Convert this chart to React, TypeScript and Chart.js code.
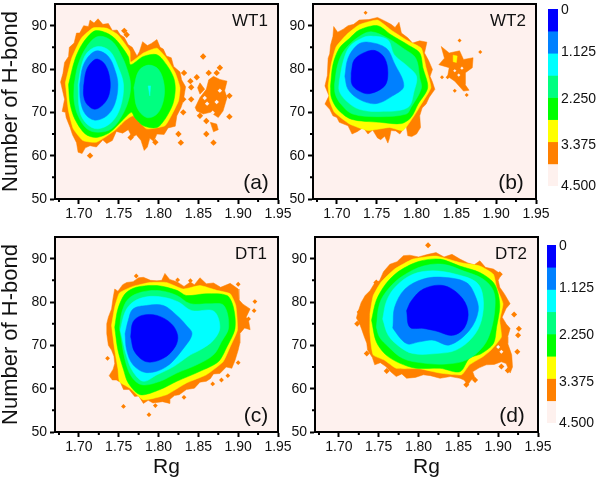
import React, { useEffect, useRef } from "react";
import { Chart, registerables } from "chart.js";
Chart.register(...registerables);

type Pt = [number, number];

const X_MAJOR = [1.7, 1.75, 1.8, 1.85, 1.9, 1.95];
const X_MINOR = [1.675, 1.725, 1.775, 1.825, 1.875, 1.925];
const Y_MAJOR = [50, 60, 70, 80, 90];
const Y_MINOR = [55, 65, 75, 85];

const ORANGE = "#ff8000", YELLOW = "#ffff00", GREEN = "#00ff00", SPRING = "#00ff80", CYAN = "#00ffff", AZURE = "#0080ff", BLUE = "#0000ff", PALE = "#fef1ee";
const LEVEL_COLORS = [ORANGE, YELLOW, GREEN, SPRING, CYAN, AZURE, BLUE];
const LEVEL_TENSION = [0, 0.15, 0.3, 0.35, 0.35, 0.35, 0.35];
const BAR_COLORS = [BLUE, AZURE, CYAN, SPRING, GREEN, YELLOW, ORANGE, PALE];
const BAR_EDGES = [0, 0.5625, 1.125, 1.6875, 2.25, 2.8125, 3.375, 3.9375, 4.5];
const BAR_LABELS = ["0", "1.125", "2.250", "3.375", "4.500"];
const BAR_LABEL_AT = [0.03, 1.09, 2.28, 3.46, 4.5];

// ---- WT1 ----
const A_ORANGE: Pt[] = [[1.677,77],[1.68,79],[1.682,81.5],[1.687,82.9],[1.688,85],[1.694,86],[1.697,88.3],[1.701,88.3],[1.706,90],[1.712,89.8],[1.714,91.3],[1.719,90.6],[1.724,91.6],[1.73,90.3],[1.737,90.5],[1.742,88.9],[1.748,89],[1.752,87.9],[1.757,87.3],[1.762,85.6],[1.767,85],[1.773,83],[1.776,84],[1.78,86.3],[1.786,85.4],[1.791,85.9],[1.798,86.8],[1.802,85],[1.806,84.6],[1.81,83],[1.816,82.6],[1.819,80.6],[1.827,79.3],[1.829,77.5],[1.834,75.9],[1.831,72.6],[1.828,71],[1.823,69.2],[1.821,66.8],[1.812,66.4],[1.807,64.9],[1.798,65],[1.794,63.3],[1.789,64],[1.786,62],[1.782,61.2],[1.778,63.5],[1.772,64.8],[1.767,64.2],[1.762,66],[1.755,65.2],[1.747,65.6],[1.742,63.5],[1.735,62.8],[1.73,63.6],[1.722,62],[1.714,62.3],[1.708,61.8],[1.704,60.5],[1.699,60.8],[1.697,63],[1.692,64.8],[1.689,66.5],[1.684,68.8],[1.683,70],[1.679,70.2],[1.682,73]];
const A_YELLOW: Pt[] = [[1.683,76.8],[1.691,82.5],[1.703,87.1],[1.718,89.5],[1.735,89.4],[1.749,87.9],[1.764,84.1],[1.765,81.6],[1.781,83.7],[1.798,84.8],[1.81,82.5],[1.821,79.1],[1.827,75.7],[1.825,72.6],[1.816,69.2],[1.808,66.9],[1.785,66.2],[1.768,69.2],[1.758,68.1],[1.745,65.8],[1.722,63.1],[1.705,63.5],[1.693,66.2],[1.687,70.3]];
const A_GREEN: Pt[] = [[1.687,76.4],[1.695,82.2],[1.705,86],[1.72,88.8],[1.735,88.3],[1.747,86.7],[1.762,82.9],[1.765,81],[1.781,82.9],[1.798,83.3],[1.81,81],[1.819,78],[1.821,75.3],[1.818,71.9],[1.808,68.4],[1.798,66.5],[1.781,66.9],[1.77,68.8],[1.766,70],[1.756,68.4],[1.739,65.4],[1.722,64.2],[1.708,65],[1.695,68.4],[1.689,71.9]];
const A_SPRING: Pt[] = [[1.694,76.4],[1.699,81],[1.71,85.2],[1.724,87.5],[1.741,86.5],[1.754,82.9],[1.762,79.1],[1.765,76.1],[1.762,72.6],[1.754,69.2],[1.741,66.2],[1.724,65.4],[1.71,66.2],[1.699,69.2],[1.694,72.6]];
const A_SPRING2: Pt[] = [[1.769,75.7],[1.775,79.5],[1.787,80.9],[1.8,79.9],[1.807,76.4],[1.806,72.6],[1.798,69.6],[1.785,68.8],[1.773,71.1]];
const A_CYAN: Pt[] = [[1.699,76.4],[1.703,80.6],[1.71,83.7],[1.724,85.2],[1.739,84.1],[1.749,80.6],[1.756,76.4],[1.752,71.1],[1.741,67.7],[1.724,66.2],[1.71,67.3],[1.701,70.3]];
const A_CYAN2: Pt[] = [[1.787,76.1],[1.790,76.1],[1.789,73.8]];
const A_AZURE: Pt[] = [[1.701,76.4],[1.705,80.6],[1.714,83.3],[1.724,84.2],[1.737,82.9],[1.745,79.9],[1.749,76.4],[1.745,71.9],[1.735,69.2],[1.72,68.2],[1.708,69.6],[1.702,72.6]];
const A_BLUE: Pt[] = [[1.706,76.1],[1.709,79.5],[1.715,81.4],[1.723,82.3],[1.733,81],[1.739,77.6],[1.738,74.2],[1.731,71.9],[1.72,70.7],[1.71,71.9],[1.706,73.8]];
const A_CLUSTER: Pt[] = [[1.846,71.1],[1.852,73.4],[1.86,75.3],[1.863,77.5],[1.869,78.3],[1.877,77.6],[1.886,77.2],[1.883,75],[1.886,73.4],[1.881,70.3],[1.875,68.8],[1.865,70],[1.856,69.6],[1.848,70.3]];
const A_CLUSTER2: Pt[] = [[1.852,76.8],[1.858,75.3],[1.852,74.2],[1.849,75.7]];
const A_CLUSTER3: Pt[] = [[1.865,67.7],[1.873,67.3],[1.875,66],[1.869,65.5]];
const A_SPOTS: Pt[] = [[1.714,60],[1.757,88.8],[1.76,87.9],[1.856,82.9],[1.832,79.1],[1.84,77.2],[1.848,78.1],[1.841,75.8],[1.831,73],[1.841,73],[1.831,70],[1.825,65],[1.828,63],[1.86,65],[1.869,63],[1.889,73.8],[1.889,69],[1.852,69.2],[1.863,79.1],[1.873,79.1],[1.877,80.3],[1.765,64.2],[1.796,63.1],[1.86,68]];
const A_HOLES: Pt[] = [[1.873,72.4],[1.868,69.9],[1.861,72],[1.877,75],[1.858,73.3]];

// ---- WT2 ----
const B_ORANGE: Pt[] = [[1.685,76.1],[1.688,78.5],[1.689,82.5],[1.691,83.5],[1.692,85.5],[1.695,87.5],[1.696,89.8],[1.701,88.5],[1.708,89.2],[1.714,90],[1.721,90.3],[1.728,91.3],[1.74,91.4],[1.751,91.9],[1.76,91.1],[1.768,90.3],[1.773,89.6],[1.778,90.8],[1.781,88.3],[1.789,87.2],[1.795,86],[1.804,86.5],[1.813,86.2],[1.81,83.7],[1.815,82],[1.82,79.9],[1.817,78.3],[1.82,77],[1.823,75.3],[1.816,73.5],[1.812,71.9],[1.807,71],[1.804,69.2],[1.805,66.5],[1.8,65],[1.794,64.4],[1.789,64.6],[1.787,66.9],[1.783,66],[1.779,65],[1.774,65.7],[1.768,65.8],[1.766,64],[1.764,62.9],[1.76,64.5],[1.755,63.7],[1.751,64.1],[1.745,65.9],[1.739,65],[1.733,66.5],[1.726,65.6],[1.719,65],[1.714,66.9],[1.703,67.7],[1.7,68.8],[1.695,69.2],[1.691,70.7],[1.685,71.9],[1.69,73.8]];
const B_YELLOW: Pt[] = [[1.689,76.1],[1.693,81.2],[1.699,85.1],[1.712,87.9],[1.728,90.2],[1.751,91.3],[1.768,89],[1.789,86.5],[1.806,84.8],[1.812,80.3],[1.818,75.7],[1.806,71.9],[1.797,69.2],[1.783,65.8],[1.766,66.5],[1.739,65.8],[1.716,67.3],[1.697,70],[1.691,72.6]];
const B_GREEN: Pt[] = [[1.692,76.1],[1.695,81],[1.703,84.8],[1.716,87.1],[1.728,89],[1.751,90],[1.768,87.9],[1.789,85.6],[1.804,83.7],[1.808,80.3],[1.814,75.7],[1.802,71.9],[1.793,68.8],[1.781,67.4],[1.754,67.7],[1.718,68.4],[1.701,70.7],[1.693,73.4]];
const B_SPRING: Pt[] = [[1.697,76.4],[1.701,81],[1.71,84.5],[1.728,87.5],[1.743,88.6],[1.764,87.1],[1.783,84.8],[1.799,82.5],[1.804,78],[1.806,75.5],[1.793,71.1],[1.787,69.6],[1.754,69],[1.72,69.6],[1.705,71.9],[1.698,74.2]];
const B_CYAN: Pt[] = [[1.703,77.2],[1.708,81.8],[1.716,85.2],[1.731,87.1],[1.743,87.6],[1.764,86.7],[1.772,83.3],[1.789,80.6],[1.8,78.3],[1.797,74.9],[1.789,71.1],[1.754,70.2],[1.728,70.7],[1.712,72.6],[1.703,74.9]];
const B_AZURE: Pt[] = [[1.71,78.3],[1.714,82.5],[1.726,85.6],[1.739,86.2],[1.762,84.8],[1.772,81.4],[1.784,76.1],[1.77,73.8],[1.749,72],[1.728,73],[1.714,75.3]];
const B_BLUE: Pt[] = [[1.718,79.1],[1.722,82.2],[1.737,84],[1.749,84.2],[1.76,82.5],[1.764,79.1],[1.76,76.1],[1.741,74.3],[1.728,74.9],[1.719,76.4]];
const B_CLUSTER: Pt[] = [[1.831,85.2],[1.841,83.7],[1.854,84.2],[1.859,82.2],[1.871,82.6],[1.87,80.3],[1.861,79.1],[1.861,76.4],[1.866,75.1],[1.859,74.9],[1.848,77.2],[1.839,78.3],[1.841,80.3],[1.828,81],[1.835,82.5]];
const B_PATCH: Pt[] = [[1.846,83.2],[1.851,83],[1.85,81.5],[1.846,81.7]];
const B_SPOTS: Pt[] = [[1.736,93],[1.854,86.6],[1.88,83.9],[1.848,75],[1.863,74],[1.832,78.1],[1.839,78.1]];
const B_HOLES: Pt[] = [[1.857,80.2],[1.853,78.6],[1.848,79.6]];

// ---- DT1 ----
const C_ORANGE: Pt[] = [[1.735,75],[1.737,76.5],[1.741,78.4],[1.743,81],[1.745,83],[1.749,82.5],[1.755,84],[1.76,84.5],[1.768,84.7],[1.775,85.6],[1.781,85.7],[1.79,85],[1.798,84.9],[1.804,85],[1.808,86.6],[1.814,85.2],[1.823,84.7],[1.832,83.6],[1.84,84.6],[1.845,84],[1.852,85.6],[1.86,84.2],[1.869,84.4],[1.878,83.4],[1.89,84.3],[1.9,83],[1.901,80.5],[1.906,79.5],[1.915,78.4],[1.91,76.5],[1.913,75.8],[1.915,73.6],[1.908,74],[1.902,72.7],[1.902,70.5],[1.9,68.9],[1.896,66.5],[1.892,64.7],[1.885,65],[1.877,63.5],[1.869,63.4],[1.865,62.3],[1.86,61.7],[1.852,61.5],[1.845,60.1],[1.835,59.8],[1.826,58.6],[1.82,58.4],[1.814,57.5],[1.814,56.6],[1.805,57],[1.793,56.7],[1.787,57.3],[1.781,56.6],[1.775,58.3],[1.77,58.2],[1.763,59.8],[1.756,59.8],[1.752,61.5],[1.747,62],[1.742,62],[1.738,63],[1.743,64.5],[1.745,65.8],[1.744,67.5],[1.741,68.9],[1.737,70],[1.735,72.7]];
const C_YELLOW: Pt[] = [[1.741,74.6],[1.745,78.8],[1.751,82.1],[1.768,83.6],[1.789,84.5],[1.81,84.5],[1.831,83],[1.852,83.8],[1.873,82.7],[1.89,81.9],[1.897,79.2],[1.899,73.5],[1.89,69.7],[1.881,66.2],[1.86,63.2],[1.835,61.3],[1.81,58.6],[1.781,57.4],[1.764,60.1],[1.751,61.6],[1.749,64.6],[1.745,68.9]];
const C_GREEN: Pt[] = [[1.745,74.2],[1.749,78.4],[1.758,81.9],[1.772,83.4],[1.798,83.8],[1.823,82.7],[1.835,81.5],[1.86,81.9],[1.886,81.5],[1.894,78.8],[1.896,73.9],[1.886,69.7],[1.875,66.2],[1.852,64],[1.823,61.7],[1.802,59.8],[1.777,58.6],[1.762,61.3],[1.756,64.4],[1.749,68.9]];
const C_SPRING: Pt[] = [[1.751,73.9],[1.754,77.7],[1.762,80.7],[1.779,82.3],[1.802,82.6],[1.823,81.5],[1.84,79.6],[1.865,79.6],[1.882,79.2],[1.888,74.2],[1.879,70.8],[1.869,67.8],[1.848,65.5],[1.823,63.6],[1.802,61.7],[1.779,60.9],[1.766,62.8],[1.758,66.6]];
const C_CYAN: Pt[] = [[1.752,73.5],[1.758,77.7],[1.768,80],[1.785,81.2],[1.806,81.1],[1.825,80],[1.842,78],[1.869,77.9],[1.877,74.2],[1.869,71.2],[1.852,68.9],[1.84,67.8],[1.819,65.1],[1.798,63.2],[1.781,61.7],[1.768,63.9],[1.76,67.4]];
const C_AZURE: Pt[] = [[1.758,72.7],[1.762,75.8],[1.768,78.4],[1.785,79.2],[1.806,79.2],[1.823,76.9],[1.835,74.6],[1.842,72.7],[1.833,69.7],[1.81,65.1],[1.785,63.7],[1.768,65.5],[1.76,68.9]];
const C_BLUE: Pt[] = [[1.765,72],[1.768,75.4],[1.779,76.9],[1.798,76.9],[1.816,75],[1.824,72.3],[1.821,69.7],[1.806,67],[1.785,66.2],[1.77,68.5]];
const C_SPOTS: Pt[] = [[1.772,86],[1.824,85.1],[1.84,84.9],[1.736,67],[1.756,55.9],[1.788,54],[1.796,56.1],[1.832,58],[1.9,66],[1.887,63],[1.879,62],[1.868,61.1],[1.921,80.1],[1.92,78],[1.913,76.1],[1.9,84.1]];
const C_HOLES: Pt[] = [];

// ---- DT2 ----
const D_ORANGE: Pt[] = [[1.728,79.9],[1.733,81.5],[1.739,82.6],[1.745,84.4],[1.751,84.9],[1.756,87],[1.764,88.7],[1.773,89.3],[1.781,90.7],[1.789,90.8],[1.8,90.4],[1.812,91],[1.822,91.4],[1.832,90.4],[1.842,91],[1.852,89.9],[1.862,89],[1.87,88.6],[1.877,89.5],[1.884,88],[1.894,87.6],[1.899,87],[1.904,86.4],[1.9,85],[1.902,83.4],[1.908,81.8],[1.915,79.6],[1.91,78.5],[1.905,76.5],[1.91,75],[1.915,73.9],[1.912,72],[1.912,70.4],[1.917,67.8],[1.918,65],[1.915,63.6],[1.91,65.8],[1.904,66.2],[1.895,65.6],[1.885,65.5],[1.876,64.8],[1.868,63.9],[1.871,62.4],[1.866,62],[1.862,60.9],[1.857,62],[1.852,62.4],[1.84,62.8],[1.827,62.4],[1.815,63],[1.806,63.2],[1.796,62.6],[1.785,62.4],[1.779,63.4],[1.772,62.8],[1.765,63.9],[1.759,65.1],[1.752,66],[1.745,65.5],[1.742,67.2],[1.736,68.9],[1.735,70.5],[1.732,71.9],[1.729,73.5],[1.726,75],[1.722,76.3],[1.724,77.7]];
const D_YELLOW: Pt[] = [[1.739,77.3],[1.743,81.4],[1.753,84.6],[1.77,87.6],[1.793,89.9],[1.822,90.6],[1.852,89.1],[1.877,88.3],[1.894,86.4],[1.898,83.4],[1.906,79.6],[1.902,75.8],[1.904,71.9],[1.891,68.9],[1.881,67.4],[1.864,65.5],[1.854,63.2],[1.827,63.6],[1.801,64.6],[1.772,64.7],[1.757,66.6],[1.743,67.8],[1.739,72.7]];
const D_GREEN: Pt[] = [[1.741,75.8],[1.747,80.4],[1.759,84.2],[1.776,87.2],[1.801,89.4],[1.827,89.9],[1.852,88.3],[1.877,86.8],[1.894,84.5],[1.9,81.9],[1.902,78.8],[1.898,74.2],[1.894,70.4],[1.879,68.1],[1.864,67],[1.852,63.9],[1.827,64.7],[1.797,64.7],[1.776,65.9],[1.759,67.8],[1.747,70.8]];
const D_SPRING: Pt[] = [[1.747,74.2],[1.751,79.6],[1.762,83],[1.78,86],[1.806,88.3],[1.831,88.7],[1.856,87.2],[1.881,85.3],[1.894,82.6],[1.896,78.8],[1.891,73.5],[1.881,69.7],[1.86,66.6],[1.835,65.7],[1.806,65.9],[1.78,67],[1.762,69.7],[1.751,71.9]];
const D_CYAN: Pt[] = [[1.755,76.1],[1.76,80.3],[1.772,83.7],[1.793,86.4],[1.818,87.2],[1.847,86.4],[1.873,84.5],[1.881,81.1],[1.879,75.8],[1.868,71.9],[1.847,68.9],[1.822,68.1],[1.793,68.1],[1.776,69.7],[1.762,72.3]];
const D_AZURE: Pt[] = [[1.768,74.6],[1.77,78.8],[1.783,83],[1.806,85.3],[1.831,85.7],[1.86,84.5],[1.871,81.5],[1.875,78],[1.864,73.5],[1.839,70.1],[1.818,71.2],[1.801,70.8],[1.785,70.4],[1.768,73.9]];
const D_BLUE: Pt[] = [[1.785,78],[1.791,80.3],[1.806,83],[1.831,83.8],[1.852,81.5],[1.862,78],[1.858,74.2],[1.843,72.3],[1.822,73.3],[1.806,73.9],[1.789,74.2]];
const D_SPOTS: Pt[] = [[1.812,93.1],[1.726,77.7],[1.723,75],[1.735,68.1],[1.76,64.1],[1.747,84.5],[1.86,60.9],[1.871,62],[1.92,77.1],[1.926,73.8],[1.925,72.3],[1.924,68.5],[1.904,65.1],[1.912,64.2],[1.902,86.4]];
const D_HOLES: Pt[] = [[1.9,69.6],[1.904,68.5],[1.913,75]];

const toXY = (p: Pt[]) => p.map(([x, y]) => ({ x, y }));
const poly = (p: Pt[], color: string, tension = 0) => ({
  data: toXY([...p, p[0]]),
  showLine: true,
  fill: "shape",
  backgroundColor: color,
  borderColor: color,
  borderWidth: 0.5,
  pointRadius: 0,
  tension,
});
const dots = (p: Pt[], color: string, r = 3.2) => ({
  data: toXY(p),
  showLine: false,
  pointStyle: "rectRot",
  pointRadius: r,
  backgroundColor: color,
  borderWidth: 0,
});

const panelPlugin = {
  id: "panel",
  beforeDraw(chart: any) {
    const a = chart.chartArea, c = chart.ctx;
    c.save();
    c.fillStyle = PALE;
    c.fillRect(a.left, a.top, a.width, a.height);
    c.restore();
  },
  afterDraw(chart: any, _args: any, o: any) {
    const a = chart.chartArea, c = chart.ctx, sx = chart.scales.x, sy = chart.scales.y;
    c.save();
    c.strokeStyle = "#000";
    c.lineWidth = 2;
    c.strokeRect(a.left, a.top, a.width, a.height);
    c.beginPath();
    for (const v of X_MINOR) {
      const p = sx.getPixelForValue(v);
      c.moveTo(p, a.bottom);
      c.lineTo(p, a.bottom + 3);
    }
    for (const v of Y_MINOR) {
      const p = sy.getPixelForValue(v);
      c.moveTo(a.left, p);
      c.lineTo(a.left - 3, p);
    }
    c.stroke();
    c.fillStyle = "#111";
    c.textAlign = "center";
    c.textBaseline = "middle";
    c.font = "17px 'Liberation Sans'";
    c.fillText(o.name, a.right - o.nameDx, a.top + 17);
    c.font = "21px 'Liberation Sans'";
    c.fillText(o.tag, a.right - o.tagDx, a.bottom - 16);
    c.restore();
  },
};

type PanelCfg = {
  layers: any[];
  name: string;
  tag: string;
  nameDx: number;
  tagDx: number;
  left: number;
  top: number;
  axisW: number;
  plotW: number;
  plotH: number;
  xTitle: boolean;
  yTitle: boolean;
};

const layersOf = (rings: Pt[][]) => {
  const out: any[] = [];
  for (let i = rings.length - 1; i >= 0; i--) out.push(poly(rings[i], LEVEL_COLORS[i], LEVEL_TENSION[i]));
  return out;
};

const PANELS: PanelCfg[] = [
  {
    layers: [
      dots(A_HOLES, PALE, 2.2),
      poly(A_CLUSTER3, ORANGE), poly(A_CLUSTER2, ORANGE), poly(A_CLUSTER, ORANGE), dots(A_SPOTS, ORANGE),
      poly(A_CYAN2, CYAN), poly(A_SPRING2, SPRING, 0.35),
      ...layersOf([A_ORANGE, A_YELLOW, A_GREEN, A_SPRING, A_CYAN, A_AZURE, A_BLUE]),
    ],
    name: "WT1", tag: "(a)", nameDx: 28, tagDx: 22, left: 0, top: 0, axisW: 55, plotW: 223, plotH: 196, xTitle: false, yTitle: true,
  },
  {
    layers: [
      dots(B_HOLES, PALE, 1.6), poly(B_PATCH, YELLOW), poly(B_CLUSTER, ORANGE), dots(B_SPOTS, ORANGE, 2),
      ...layersOf([B_ORANGE, B_YELLOW, B_GREEN, B_SPRING, B_CYAN, B_AZURE, B_BLUE]),
    ],
    name: "WT2", tag: "(b)", nameDx: 28, tagDx: 25, left: 283, top: 0, axisW: 30, plotW: 223.5, plotH: 196, xTitle: false, yTitle: false,
  },
  {
    layers: [
      dots(C_HOLES, PALE), dots(C_SPOTS, ORANGE, 2.4),
      ...layersOf([C_ORANGE, C_YELLOW, C_GREEN, C_SPRING, C_CYAN, C_AZURE, C_BLUE]),
    ],
    name: "DT1", tag: "(c)", nameDx: 27, tagDx: 22, left: 0, top: 233, axisW: 55, plotW: 223, plotH: 196.7, xTitle: true, yTitle: true,
  },
  {
    layers: [
      dots(D_HOLES, PALE, 2), dots(D_SPOTS, ORANGE, 3),
      ...layersOf([D_ORANGE, D_YELLOW, D_GREEN, D_SPRING, D_CYAN, D_AZURE, D_BLUE]),
    ],
    name: "DT2", tag: "(d)", nameDx: 27, tagDx: 26, left: 285, top: 233, axisW: 30, plotW: 223.5, plotH: 196.7, xTitle: true, yTitle: false,
  },
];

const TOP_PAD = 3;
const RIGHT_PAD = 18;

const makePanel = (canvas: HTMLCanvasElement, p: PanelCfg) =>
  new Chart(canvas, {
    type: "scatter",
    data: { datasets: p.layers },
    plugins: [panelPlugin],
    options: {
      animation: false,
      responsive: false,
      events: [],
      layout: { padding: { top: TOP_PAD, right: RIGHT_PAD, left: 0, bottom: 0 } },
      plugins: {
        legend: { display: false },
        tooltip: { enabled: false },
        panel: { name: p.name, tag: p.tag, nameDx: p.nameDx, tagDx: p.tagDx },
      } as any,
      scales: {
        x: {
          type: "linear",
          min: 1.67,
          max: 1.95,
          afterBuildTicks: (s: any) => { s.ticks = X_MAJOR.map((value) => ({ value })); },
          afterFit: (s: any) => { s.height = p.xTitle ? 48 : 30; s.paddingLeft = 0; s.paddingRight = 0; },
          grid: { drawOnChartArea: false, drawTicks: true, tickLength: 5, tickWidth: 2, tickColor: "#000" },
          border: { display: true, color: "#000", width: 2 },
          ticks: { color: "#111", font: { family: "'Liberation Sans'", size: 14 }, padding: 2, maxRotation: 0, autoSkip: false, callback: (v: any) => Number(v).toFixed(2) },
          title: { display: p.xTitle, text: "Rg", color: "#111", padding: 0, font: { family: "'Liberation Sans'", size: 21, lineHeight: 1.2 } },
        },
        y: {
          type: "linear",
          min: 50,
          max: 95,
          afterBuildTicks: (s: any) => { s.ticks = Y_MAJOR.map((value) => ({ value })); },
          afterFit: (s: any) => { s.width = p.axisW; s.paddingTop = 0; s.paddingBottom = 0; },
          grid: { drawOnChartArea: false, drawTicks: true, tickLength: 5, tickWidth: 2, tickColor: "#000" },
          border: { display: true, color: "#000", width: 2 },
          ticks: { color: "#111", font: { family: "'Liberation Sans'", size: 14 }, padding: 3, autoSkip: false, callback: (v: any) => String(v) },
          title: { display: p.yTitle, text: "Number of H-bond", color: "#111", padding: 0, font: { family: "'Liberation Sans'", size: 22, lineHeight: 1 } },
        },
      },
    } as any,
  });

const BAR_BOXES = [
  { left: 540, top: 0, padLeft: 8, barW: 10, height: 200, padTop: 9, padBottom: 14 },
  { left: 540, top: 233, padLeft: 7, barW: 9, height: 205, padTop: 12, padBottom: 15 },
];

const makeBar = (canvas: HTMLCanvasElement, b: (typeof BAR_BOXES)[number]) =>
  new Chart(canvas, {
    type: "bar",
    data: {
      labels: ["level"],
      datasets: BAR_COLORS.map((color, i) => ({
        data: [[BAR_EDGES[i], BAR_EDGES[i + 1]]],
        backgroundColor: color,
        borderWidth: 0,
        barPercentage: 1,
        categoryPercentage: 1,
        grouped: false,
      })),
    },
    options: {
      animation: false,
      responsive: false,
      events: [],
      layout: { padding: { top: b.padTop, bottom: b.padBottom, left: b.padLeft, right: 0 } },
      plugins: { legend: { display: false }, tooltip: { enabled: false } },
      scales: {
        x: { display: false },
        y: {
          type: "linear",
          position: "right",
          reverse: true,
          min: 0,
          max: 4.5,
          afterBuildTicks: (s: any) => { s.ticks = BAR_LABEL_AT.map((value) => ({ value })); },
          afterFit: (s: any) => { s.width = 60 - b.padLeft - b.barW; s.paddingTop = 0; s.paddingBottom = 0; },
          grid: { display: false, drawTicks: false },
          border: { display: false },
          ticks: {
            color: "#111",
            padding: 3,
            autoSkip: false,
            font: { family: "'Liberation Sans'", size: 14 },
            callback: (_v: any, i: number) => BAR_LABELS[i],
          },
        },
      },
    } as any,
  });

export default function App() {
  const panelRefs = useRef<(HTMLCanvasElement | null)[]>([]);
  const barRefs = useRef<(HTMLCanvasElement | null)[]>([]);
  useEffect(() => {
    const charts = [
      ...PANELS.map((p, i) => makePanel(panelRefs.current[i]!, p)),
      ...BAR_BOXES.map((b, i) => makeBar(barRefs.current[i]!, b)),
    ];
    return () => charts.forEach((c) => c.destroy());
  }, []);
  return (
    <div style={{ position: "absolute", left: 0, top: 0, width: 600, height: 481, overflow: "hidden", background: "#fff" }}>
      {PANELS.map((p, i) => (
        <canvas
          key={p.name}
          ref={(el) => { panelRefs.current[i] = el; }}
          width={p.axisW + p.plotW + RIGHT_PAD}
          height={TOP_PAD + p.plotH + (p.xTitle ? 48 : 30)}
          style={{ position: "absolute", left: p.left, top: p.top, display: "block" }}
        />
      ))}
      {BAR_BOXES.map((b, i) => (
        <canvas
          key={i}
          ref={(el) => { barRefs.current[i] = el; }}
          width={60}
          height={b.height}
          style={{ position: "absolute", left: b.left, top: b.top, display: "block" }}
        />
      ))}
    </div>
  );
}
